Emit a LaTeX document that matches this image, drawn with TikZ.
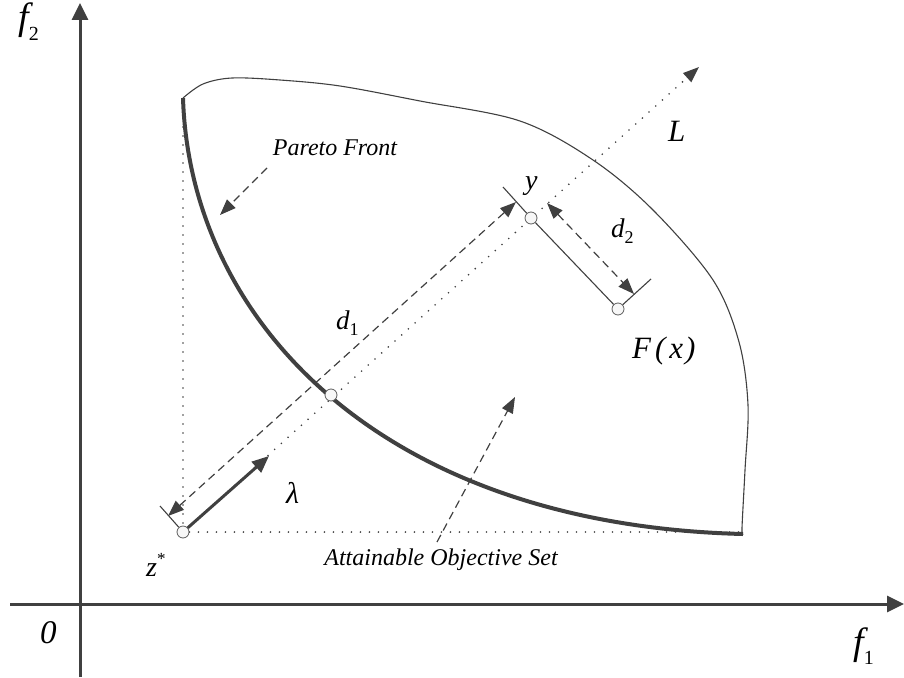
\documentclass[tikz,border=0pt]{standalone}
\usepackage{fontspec}
\setmainfont{Liberation Serif}
\usetikzlibrary{arrows.meta}
\definecolor{ink}{HTML}{404040}
\pgfdeclarelayer{bg}
\pgfsetlayers{bg,main}
\begin{document}
\begin{tikzpicture}[x=1pt,y=-1pt,
  axis/.style={draw=ink,line width=3pt,-{Triangle[length=17pt,width=16pt]}},
  thinline/.style={draw=ink,line width=1.1pt},
  front/.style={draw=ink,line width=4pt},
  dotline/.style={draw=ink,line width=1.8pt,line cap=round,dash pattern=on 0pt off 9pt},
  dashline/.style={draw=ink,line width=1.2pt,dash pattern=on 8pt off 5pt},
  tip/.style={-{Triangle[length=16pt,width=12pt]}},
  tips/.style={{Triangle[length=16pt,width=12pt]}-{Triangle[length=16pt,width=12pt]}},
  pt/.style={circle,draw=ink!85,line width=0.8pt,fill=gray!6,minimum size=12pt,inner sep=0pt},
  lab/.style={inner sep=0pt,anchor=base west,text=black},
  txt/.style={inner sep=0pt,anchor=base,text=black,font=\fontsize{24}{28}\selectfont\itshape},
]
\useasboundingbox (0,0) rectangle (904,677);

% points
\node[pt] (zs) at (183,532) {};
\node[pt] (p)  at (331,395) {};
\node[pt] (yy) at (531,218) {};
\node[pt] (Fx) at (618,309) {};

% helper coordinates
\coordinate (xs) at (10,604);
\coordinate (xe) at (904,604);
\coordinate (ys) at (80,677);
\coordinate (ye) at (80,3);
\coordinate (ftop) at (183,98);
\coordinate (fend) at (743,534);
\coordinate (vtop) at (183,100);
\coordinate (hend) at (743,532);
\coordinate (Ltip) at (699,67);
\coordinate (lam) at (269,456);
\coordinate (zt) at (160,506);
\coordinate (yt) at (503,187);
\coordinate (Ft) at (651,279);
\coordinate (d1a) at (168,516);
\coordinate (d1b) at (516,202);
\coordinate (d2a) at (547,203);
\coordinate (d2b) at (634,294);
\coordinate (pfa) at (267,168);
\coordinate (pfb) at (220,215);
\coordinate (aoa) at (437,542);
\coordinate (aob) at (515,397);

\begin{pgfonlayer}{bg}
% axes
\draw[axis] (xs) -- (xe);
\draw[axis] (ys) -- (ye);
% attainable set boundary
\draw[thinline] plot[smooth,tension=0.55] coordinates {(183,98) (203,84) (232,78) (280,80) (340,86) (420,101) (520,121) (593,160) (653,210) (713,280) (739,342) (748,405) (745,470) (742,528) (743,534)};
% Pareto front
\draw[front] (ftop) .. controls (190,320) and (380,525) .. (fend);
% dotted lines
\draw[dotline] (vtop) -- (zs);
\draw[dotline] (zs) -- (hend);
\draw[dotline,tip] (zs) -- (Ltip);
\end{pgfonlayer}

% ticks and solid lines
\draw[thinline] (zt) -- (zs);
\draw[thinline] (yt) -- (yy);
\draw[thinline] (yy) -- (Fx);
\draw[thinline] (Fx) -- (Ft);

% lambda
\draw[draw=ink,line width=3pt,-{Triangle[length=17pt,width=14pt]}] (zs) -- (lam);

% distances
\draw[dashline,tips] (d1a) -- (d1b);
\draw[dashline,tips] (d2a) -- (d2b);

% label arrows
\draw[dashline,tip] (pfa) -- (pfb);
\draw[dashline,tip] (aoa) -- (aob);

% labels
\node[lab,font=\fontsize{38}{40}\selectfont\itshape] (f2lab) at (18,30) {f\raisebox{-11pt}{\fontsize{20}{20}\selectfont\upshape 2}};
\node[lab,font=\fontsize{38}{40}\selectfont\itshape] (f1lab) at (853,654) {f\raisebox{-10pt}{\fontsize{20}{20}\selectfont\upshape 1}};
\node[lab,font=\fontsize{33}{34}\selectfont\itshape] (zero) at (40,643) {0};
\node[lab,font=\fontsize{31}{32}\selectfont\itshape] (Llab) at (668,141) {L};
\node[lab,font=\fontsize{28}{30}\selectfont\itshape] (ylab) at (525,189) {y};
\node[lab,font=\fontsize{27}{30}\selectfont\itshape] (d2lab) at (611,237) {d\raisebox{-6pt}{\fontsize{18}{18}\selectfont\upshape 2}};
\node[lab,font=\fontsize{27}{30}\selectfont\itshape] (d1lab) at (336,329) {d\raisebox{-6pt}{\fontsize{18}{18}\selectfont\upshape 1}};
\node[lab,font=\fontsize{31}{32}\selectfont\itshape] (Fxlab) at (632,358) {F\kern4pt(\kern4pt x\kern2pt)};
\node[lab,font=\fontsize{30}{32}\selectfont\itshape] (lamlab) at (286,503) {λ};
\node[lab,font=\fontsize{28}{30}\selectfont\itshape] (zlab) at (146,576) {z\raisebox{12pt}{\fontsize{17}{17}\selectfont\upshape *}};
\node[txt] (pflab) at (335,155) {Pareto Front};
\node[txt] (aolab) at (441,565) {Attainable Objective Set};
\end{tikzpicture}
\end{document}
